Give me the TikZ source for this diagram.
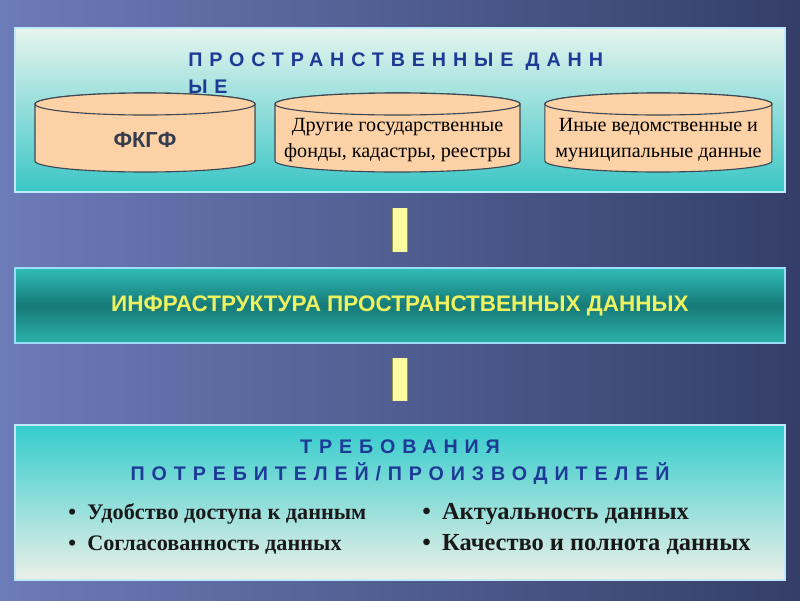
\documentclass[tikz,border=0pt]{standalone}
\usepackage{fontspec}
\setmainfont{Liberation Serif}
\setsansfont{Liberation Sans}
\newfontfamily\spaced[LetterSpace=35]{Liberation Sans}

\definecolor{bgl}{RGB}{108,124,184}
\definecolor{bgr}{RGB}{52,62,104}
\definecolor{ptop}{RGB}{232,244,238}
\definecolor{pbot}{RGB}{58,198,198}
\definecolor{btop}{RGB}{48,188,182}
\definecolor{bmid}{RGB}{22,122,120}
\definecolor{bbot}{RGB}{44,178,172}
\definecolor{ttop}{RGB}{52,204,204}
\definecolor{tbot}{RGB}{236,240,232}
\definecolor{titleblue}{RGB}{28,58,150}
\definecolor{peach}{RGB}{252,210,166}
\definecolor{dbedge}{RGB}{62,72,84}
\definecolor{fkgfgray}{RGB}{52,60,78}
\definecolor{infrayellow}{RGB}{238,242,96}
\definecolor{barfill}{RGB}{250,250,160}
\definecolor{baredge}{RGB}{150,150,80}

\begin{document}
\begin{tikzpicture}[
  panel/.style={draw=white!75!cyan, line width=1pt, minimum width=19.25cm, inner sep=0pt},
  dbline/.style={draw=dbedge, line width=0.8pt, fill=peach},
  dbtext/.style={align=center, inner sep=0pt, font=\fontsize{14.3}{18.4}\selectfont},
  heading/.style={text=titleblue, font=\spaced\bfseries\fontsize{14}{19.3}\selectfont, inner sep=0pt},
  bar/.style={draw=baredge, line width=0.5pt, double=barfill, double distance=10pt},
  items/.style={anchor=west, align=left, inner sep=0pt, text=black!90}
]
\useasboundingbox (0,0) rectangle (20,-15);
\shade[left color=bgl, right color=bgr] (0,0) rectangle (20,-15);

\node[panel, minimum height=4.1cm, top color=ptop, bottom color=pbot] (sd) at (10,-2.75) {};
\node[heading, anchor=north west, align=left] (sdt) at (4.7,-1.3) {ПРОСТРАНСТВЕННЫЕ ДАНН\\ЫЕ};

\foreach \cx/\rx in {3.625/2.75, 9.9375/3.0625, 16.46/2.8375} {
  \path[dbline] (\cx-\rx,-2.6) -- (\cx-\rx,-4.025)
    arc[start angle=180, end angle=360, x radius=\rx, y radius=0.275]
    -- (\cx+\rx,-2.6) arc[start angle=0, end angle=180, x radius=\rx, y radius=0.275] -- cycle;
  \draw[dbline] (\cx,-2.6) ellipse[x radius=\rx, y radius=0.275];
}
\node[dbtext, text=fkgfgray, font=\sffamily\bfseries\fontsize{15.5}{18}\selectfont] (fkgf) at (3.625,-3.5) {ФКГФ};
\node[dbtext] (gos) at (9.9375,-3.5) {Другие государственные\\фонды, кадастры, реестры};
\node[dbtext] (ved) at (16.46,-3.5) {Иные ведомственные и\\муниципальные данные};

\node[panel, draw=cyan!40!white, minimum height=1.875cm, top color=btop, bottom color=bbot, middle color=bmid,
  text=infrayellow, font=\sffamily\bfseries\fontsize{16}{19}\selectfont] (ipd) at (10,-7.6375)
  {ИНФРАСТРУКТУРА ПРОСТРАНСТВЕННЫХ ДАННЫХ};

\node[panel, minimum height=3.875cm, top color=ttop, bottom color=tbot] (tr) at (10,-12.5625) {};
\node[heading, align=center] (trt) at (10,-11.5625) {ТРЕБОВАНИЯ\\ПОТРЕБИТЕЛЕЙ/ПРОИЗВОДИТЕЛЕЙ};
\node[items, font=\bfseries\fontsize{15.8}{22.7}\selectfont] (left) at (1.7,-13.225)
  {\textbullet\hspace{8pt}Удобство доступа к данным\\\textbullet\hspace{8pt}Согласованность данных};
\node[items, font=\bfseries\fontsize{17.4}{22.7}\selectfont] (right) at (10.55,-13.225)
  {\textbullet\hspace{8pt}Актуальность данных\\\textbullet\hspace{8pt}Качество и полнота данных};

\draw[bar, shorten <=0.375cm, shorten >=0.375cm] (node cs:name=sd, anchor=south) -- (node cs:name=ipd, anchor=north);
\draw[bar, shorten <=0.35cm, shorten >=0.575cm] (node cs:name=ipd, anchor=south) -- (node cs:name=tr, anchor=north);
\end{tikzpicture}
\end{document}
